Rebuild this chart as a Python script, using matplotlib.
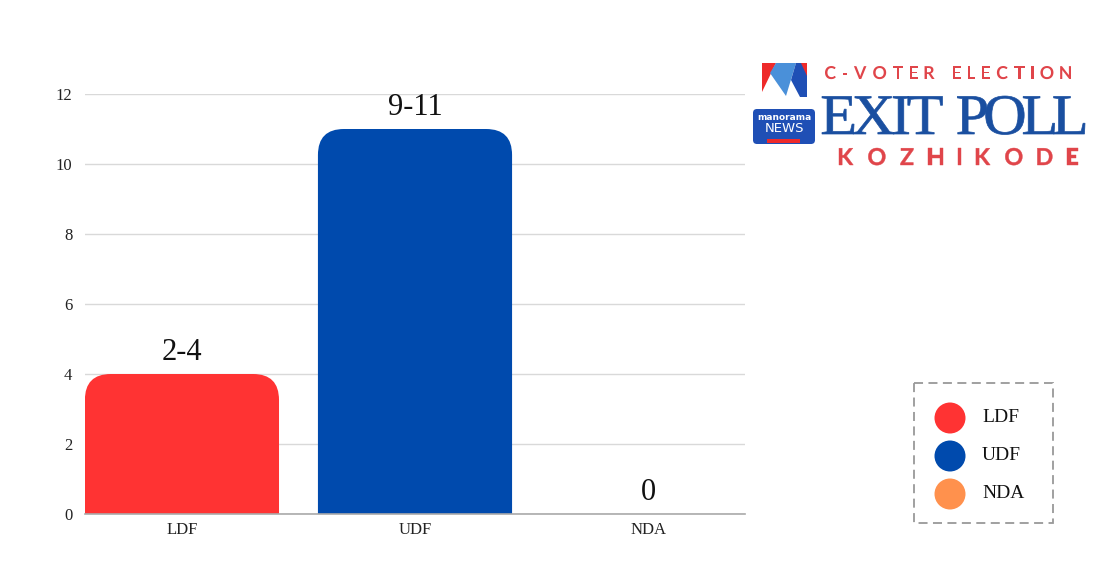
import matplotlib.pyplot as plt
from matplotlib.patches import FancyBboxPatch, PathPatch, Rectangle, Polygon, Circle
from matplotlib.path import Path
from matplotlib.textpath import TextPath
from matplotlib.font_manager import FontProperties
from matplotlib.transforms import Affine2D

# data
parties = ['LDF', 'UDF', 'NDA']
seats_upper = [4, 11, 0]
seat_labels = ['2-4', '9-11', '0']
colors = ['#ff3333', '#004aad', '#ff914d']
yticks = [0, 2, 4, 6, 8, 10, 12]

serif = 'Liberation Serif'
W, H = 1119, 583

fig = plt.figure(figsize=(W / 100, H / 100), dpi=100)
fig.patch.set_facecolor('white')

# main axes: x 85..745 px, y 94..514 px
ax = fig.add_axes([85 / W, (H - 514) / H, (745 - 85) / W, (514 - 94) / H])
ax.set_xlim(-0.416, 2.416)
ax.set_ylim(0, 12)
ax.set_yticks(yticks)
ax.set_yticklabels([str(t) for t in yticks], fontsize=12, family=serif, color='#222222')
ax.set_xticks(range(len(parties)))
ax.set_xticklabels(parties, fontsize=12, family=serif, color='#222222')
ax.tick_params(axis='x', length=0, pad=6)
ax.tick_params(axis='y', length=0, pad=9)
ax.grid(axis='y', color='#d9d9d9', lw=1)
ax.set_axisbelow(True)
for s in ['top', 'right', 'left']:
    ax.spines[s].set_visible(False)
ax.spines['bottom'].set_color('#aaaaaa')
ax.spines['bottom'].set_linewidth(1.2)

bars = ax.bar(range(len(parties)), seats_upper, width=0.833, color=colors)

# rounded top corners (radius in px converted to data units)
r_px = 26
px_x = 660 / (2.416 + 0.416)
px_y = 420 / 12
rx, ry = r_px / px_x, r_px / px_y
for rect, c in zip(bars, colors):
    h = rect.get_height()
    if h <= 0:
        continue
    x0 = rect.get_x()
    x1 = x0 + rect.get_width()
    verts = [(x0, 0), (x0, h - ry), (x0, h), (x0 + rx, h), (x1 - rx, h),
             (x1, h), (x1, h - ry), (x1, 0), (x0, 0)]
    codes = [Path.MOVETO, Path.LINETO, Path.CURVE3, Path.CURVE3, Path.LINETO,
             Path.CURVE3, Path.CURVE3, Path.LINETO, Path.CLOSEPOLY]
    rect.set_visible(False)
    ax.add_patch(PathPatch(Path(verts, codes), facecolor=c, edgecolor='none', zorder=2))

for i, (v, lab) in enumerate(zip(seats_upper, seat_labels)):
    ax.text(i, v + 0.2, lab, ha='center', va='bottom', fontsize=22,
            family=serif, color='#111111')

# overlay in pixel coords for legend and logo
ov = fig.add_axes([0, 0, 1, 1], zorder=5)
ov.set_xlim(0, W)
ov.set_ylim(H, 0)
ov.axis('off')
ov.patch.set_alpha(0)

# legend
ov.add_patch(Rectangle((914, 383), 139, 140, fill=False, edgecolor='#999999',
                       lw=1.3, linestyle=(0, (5, 3))))
for i, (p, c) in enumerate(zip(parties, colors)):
    yy = 418 + i * 38
    ov.add_patch(Circle((950, yy), 15.5, facecolor=c, edgecolor='none'))
    ov.text(982, yy, p, ha='left', va='center', fontsize=14, family=serif, color='#111111')

# logo mark
ov.add_patch(Polygon([(762, 63), (776, 63), (762, 92)], closed=True,
                     facecolor='#ee2a2a', edgecolor='none'))
ov.add_patch(Polygon([(776, 63), (796, 63), (786, 96), (770, 73)], closed=True,
                     facecolor='#4a90d9', edgecolor='none'))
ov.add_patch(Polygon([(796, 63), (807, 63), (807, 97), (800, 97), (791, 80)], closed=True,
                     facecolor='#1f4fb5', edgecolor='none'))
ov.add_patch(Polygon([(801, 63), (807, 63), (807, 76)], closed=True,
                     facecolor='#ee2a2a', edgecolor='none'))
ov.add_patch(FancyBboxPatch((753, 109), 62, 35, boxstyle='round,pad=0,rounding_size=4',
                            facecolor='#1f4fb5', edgecolor='none'))
ov.text(784, 117, 'manorama', ha='center', va='center', fontsize=6.5,
        family='DejaVu Sans', weight='bold', color='white')
ov.text(784, 129, 'NEWS', ha='center', va='center', fontsize=9.5,
        family='DejaVu Sans', color='white')
ov.add_patch(Rectangle((767, 139), 33, 4, facecolor='#ee2a2a', edgecolor='none'))


def path_text(s, x0, x1, ytop, ybot, prop, color, gap=None, lw=0.0):
    # letters scaled to the cap height; spacing fills x0..x1
    # (with a fixed gap in px the letters are squeezed to fit instead)
    size = 50
    pieces, widths = [], []
    for ch in s:
        if ch == ' ':
            pieces.append(None)
            widths.append(size * 0.28)
            continue
        tp = TextPath((0, 0), ch, size=size, prop=prop)
        bb = tp.get_extents()
        pieces.append((tp, bb.x0))
        widths.append(bb.width)
    cap = max(p[0].get_extents().y1 for p in pieces if p)
    sy = (ybot - ytop) / cap
    if gap is None:
        sx = sy
        gap = ((x1 - x0) - sx * sum(widths)) / (len(s) - 1)
    else:
        sx = ((x1 - x0) - gap * (len(s) - 1)) / sum(widths)
    x = x0
    for p, w in zip(pieces, widths):
        if p is not None:
            tp, bx = p
            tr = Affine2D().translate(-bx, 0).scale(sx, -sy).translate(x, ybot)
            ov.add_patch(PathPatch(tr.transform_path(tp), facecolor=color,
                                   edgecolor=color, lw=lw))
        x += sx * w + gap


sans_b = FontProperties(family='Lato', weight='bold')
path_text('C-VOTER ELECTION', 825, 1071, 66, 79, sans_b, '#e0454a')
path_text('KOZHIKODE', 839, 1078, 148, 165, sans_b, '#e0454a', lw=0.3)
path_text('EXIT POLL', 822, 1085, 96, 134, FontProperties(family=serif), '#1a4fa0',
          gap=-1.0, lw=0.5)

fig.savefig('out.png', dpi=100, facecolor='white')
